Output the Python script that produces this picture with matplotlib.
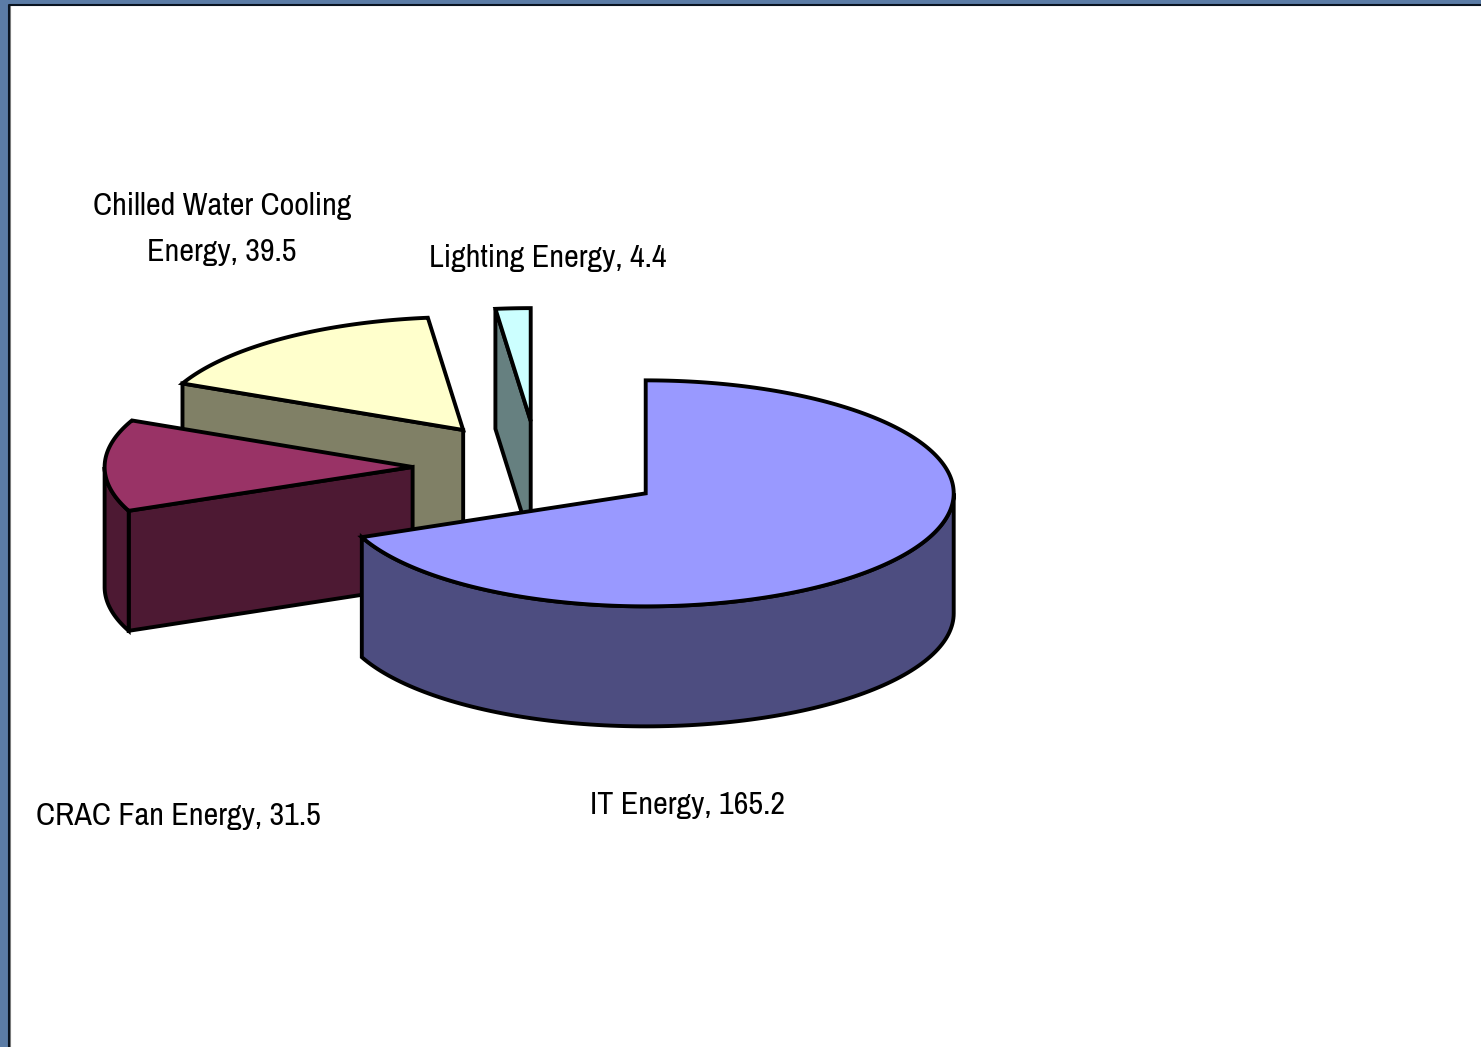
import matplotlib
matplotlib.use('Agg')
import matplotlib.pyplot as plt
import numpy as np

# slices clockwise from 12 o'clock
categories = ['IT Energy', 'CRAC Fan Energy', 'Chilled Water Cooling Energy', 'Lighting Energy']
values = [165.2, 31.5, 39.5, 4.4]
label_text = ['IT Energy, 165.2', 'CRAC Fan Energy, 31.5', 'Chilled Water Cooling\nEnergy, 39.5', 'Lighting Energy, 4.4']

top_colors = ['#9999FF', '#993366', '#FFFFCC', '#CCFFFF']
side_colors = ['#4D4D80', '#4D1933', '#808066', '#668080']

# pie layout in pixels
cx, cy = 539.5, 467.6
rx, ry = 308, 113
depth = 120
explode = 0.412
nudge_x = [0.5, 0, -1.5, -1.5]
lw = 2.8
label_pos = [(688, 805), (178, 816), (222, 229), (547.5, 258)]

plt.rcParams['font.family'] = ['Archivo Narrow', 'Roboto Condensed', 'Liberation Sans', 'DejaVu Sans']

fig = plt.figure(figsize=(14.81, 10.47), dpi=100, facecolor='#5B7CA6')
ax = fig.add_axes([0, 0, 1, 1])
ax.set_xlim(0, 1481)
ax.set_ylim(1047, 0)
ax.axis('off')

# white slide area with the dark edge on top and left
ax.fill([9, 1481, 1481, 9], [5, 5, 1047, 1047], color='white', zorder=0)
ax.plot([10, 10], [6, 1047], color='#808080', lw=0.8, zorder=1)
ax.plot([9, 9, 1481], [1047, 5, 5], color='#0A1420', lw=1.5, zorder=1)


def ell(x0, y0, t):
    t = np.radians(t)
    return x0 + rx * np.sin(t), y0 - ry * np.cos(t)


def shape(xs, ys, color, z):
    ax.fill(xs, ys, facecolor=color, edgecolor='black', lw=lw, joinstyle='miter', zorder=z)


total = sum(values)
edges = np.concatenate([[0], np.cumsum(values)]) / total * 360
order = [3, 2, 1, 0]  # back to front

for n, i in enumerate(order):
    t0, t1 = edges[i], edges[i + 1]
    mid = (t0 + t1) / 2
    x0, y0 = ell(cx, cy, mid)
    x0 = cx + explode * (x0 - cx) + nudge_x[i]
    y0 = cy + explode * (y0 - cy)
    z = 2 + n

    # cut face, only the one looking at the viewer
    if t0 > 180:
        ox, oy = ell(x0, y0, t0)
        shape([x0, ox, ox, x0], [y0, oy, oy + depth, y0 + depth], side_colors[i], z)

    # outer wall, front half of the rim
    a, b = max(t0, 90), min(t1, 270)
    if a < b:
        tt = np.linspace(a, b, 120)
        wx, wy = ell(x0, y0, tt)
        shape(np.r_[wx, wx[::-1]], np.r_[wy, wy[::-1] + depth], side_colors[i], z)

    # top
    tt = np.linspace(t0, t1, 240)
    sx, sy = ell(x0, y0, tt)
    shape(np.r_[x0, sx], np.r_[y0, sy], top_colors[i], z)

for txt, (lx, ly) in zip(label_text, label_pos):
    ax.text(lx, ly, txt, ha='center', va='center', fontsize=23.2, color='black',
            linespacing=1.75, zorder=10)

fig.savefig('out.png', dpi=100, facecolor=fig.get_facecolor())
